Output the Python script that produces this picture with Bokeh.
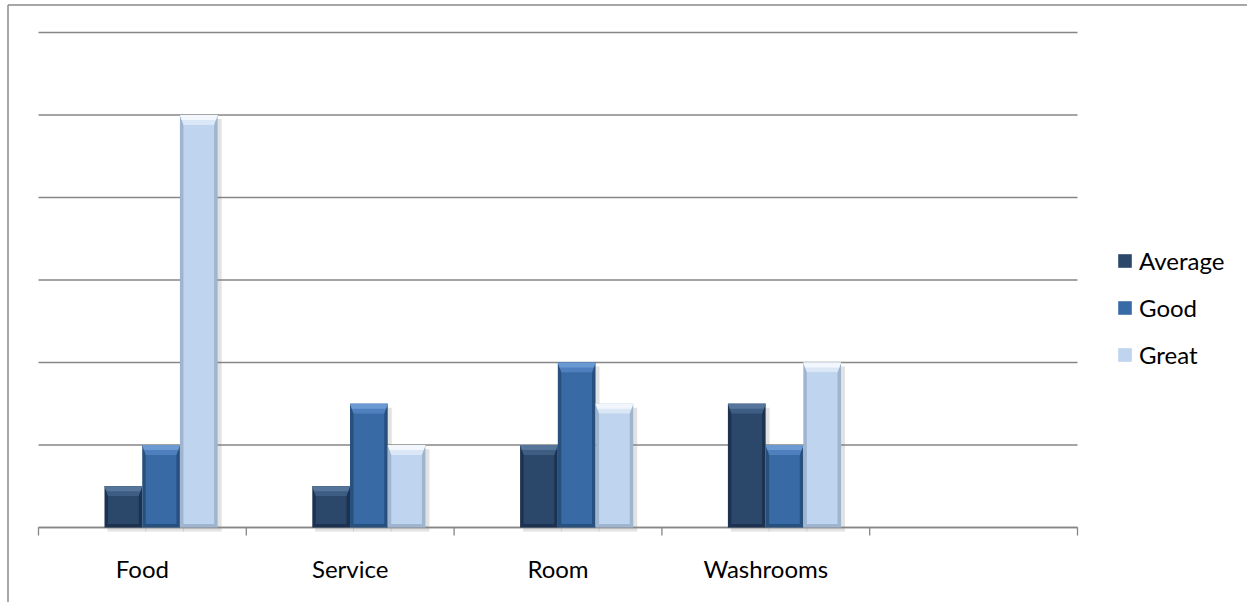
from bokeh.plotting import figure
from bokeh.models import Legend, LegendItem, Range1d
from bokeh.core.properties import value
from bokeh.embed import file_html
from bokeh.resources import INLINE

categories = ["Food", "Service", "Room", "Washrooms"]
series_names = ["Average", "Good", "Great"]
average = [0.5, 0.5, 1, 1.5]
good = [1, 1.5, 2, 1]
great = [5, 1, 1.5, 2]
y_ticks = [0, 1, 2, 3, 4, 5, 6]
n_slots = 5

# colours (main, top bevel light, top bevel mid, edge)
styles = {
    "Average": ("#2b4769", "#55759b", "#3d5d83", "#1d3250"),
    "Good": ("#386aa6", "#6b9ad3", "#4f80bd", "#28507f"),
    "Great": ("#bfd4ee", "#f2f7fd", "#dae7f7", "#9fb4cf"),
}
GRID = "#868686"
FONT = "Lato"

W, H = 1247, 602
# plot area inside canvas (pixels)
AL, AT, AW, AH = 38, 32, 1039, 495
y_max = y_ticks[-1]
px = n_slots / AW          # data units per pixel (x)
py = y_max / AH            # data units per pixel (y)

x0 = -AL * px
x1 = (W - AL) * px
y1 = y_max + AT * py
y0 = y1 - H * py

p = figure(width=W, height=H, output_backend="svg", toolbar_location=None,
           x_range=Range1d(x0, x1), y_range=Range1d(y0, y1),
           min_border=0, min_border_left=0, min_border_right=0,
           min_border_top=0, min_border_bottom=0)
p.axis.visible = False
p.grid.visible = False
p.outline_line_color = None
p.background_fill_color = "white"
p.border_fill_color = "white"

# outer chart border (left and top)
bx = x0 + 7.5 * px
by = y1 - 4.5 * py
p.segment(x0=[bx, bx], y0=[y0, by], x1=[bx, x1], y1=[by, by],
          line_color="#8a8a8a", line_width=1.5)

# gridlines
p.segment(x0=[0] * len(y_ticks), x1=[n_slots] * len(y_ticks), y0=y_ticks, y1=y_ticks,
          line_color=GRID, line_width=1.3)

bar_w = 0.1815
group_off = 0.3176
side = 3.5 * px
sidey = 3.5 * py
bevel = 10 * py

# shadows
for k, vals in enumerate([average, good, great]):
    lefts = [i + group_off + k * bar_w for i in range(len(vals))]
    p.quad(left=[l + 3 * px for l in lefts], right=[l + bar_w + 4 * px for l in lefts],
           bottom=[-4 * py] * len(vals), top=[v - 4 * py for v in vals],
           fill_color="#7a7a7a", fill_alpha=0.22, line_color=None)

# x axis line and ticks
p.segment(x0=[0], x1=[n_slots], y0=[0], y1=[0], line_color=GRID, line_width=1.3)
bounds = list(range(n_slots + 1))
p.segment(x0=bounds, x1=bounds, y0=[0] * len(bounds), y1=[-8 * py] * len(bounds),
          line_color=GRID, line_width=1.3)

main_items = []
for k, (name, vals) in enumerate(zip(series_names, [average, good, great])):
    main_c, top_c, mid_c, edge_c = styles[name]
    lefts = [i + group_off + k * bar_w for i in range(len(vals))]
    rights = [l + bar_w for l in lefts]
    p.quad(left=lefts, right=rights, bottom=[0] * len(vals), top=vals,
           fill_color=edge_c, line_color=None)
    r_main = p.quad(left=[l + side for l in lefts], right=[r - side for r in rights],
                    bottom=[sidey] * len(vals), top=[v - bevel for v in vals],
                    fill_color=main_c, line_color=None)
    # top bevel: lighter upper band, mid band below
    xs = [[l, r, r - side, l + side] for l, r in zip(lefts, rights)]
    ys = [[v, v, v - bevel, v - bevel] for v in vals]
    p.patches(xs=xs, ys=ys, fill_color=mid_c, line_color=None)
    h = 0.5
    xs2 = [[l, r, r - side * h, l + side * h] for l, r in zip(lefts, rights)]
    ys2 = [[v, v, v - bevel * h, v - bevel * h] for v in vals]
    p.patches(xs=xs2, ys=ys2, fill_color=top_c, line_color=None)
    main_items.append(LegendItem(label=name, renderers=[r_main]))

# category labels
centers = [i + 0.5 for i in range(len(categories))]
p.text(x=centers, y=[-41 * py] * len(categories), text=categories,
       text_align="center", text_baseline="middle",
       text_font=value(FONT), text_font_size="24px", text_color="#000000")

legend = Legend(items=main_items, location=(1116, 233),
                glyph_width=17, glyph_height=17, label_height=26, spacing=18,
                label_text_font=FONT, label_text_font_size="24px",
                label_text_color="#000000", label_standoff=6,
                padding=0, margin=0, border_line_color=None,
                background_fill_alpha=0)
p.add_layout(legend, "center")

open("out.html", "w").write(file_html(p, INLINE))
